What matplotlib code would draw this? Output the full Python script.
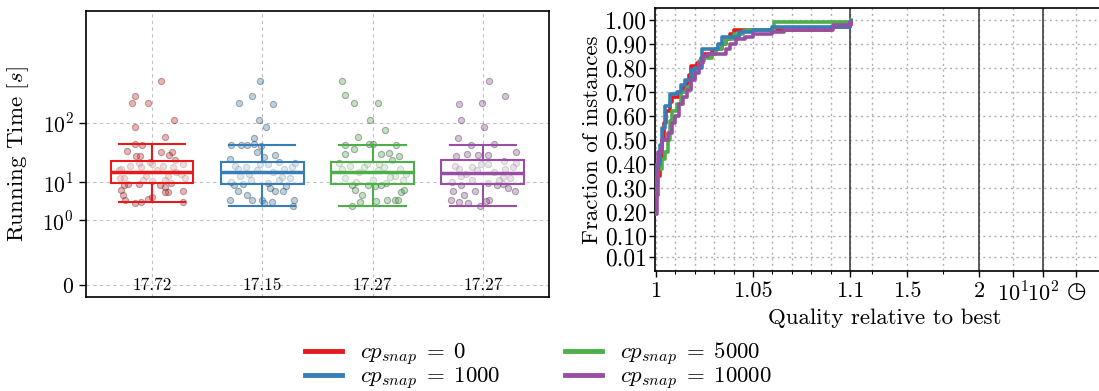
import numpy as np
import matplotlib
matplotlib.use("Agg")
import matplotlib.pyplot as plt
from matplotlib.lines import Line2D

plt.rcParams['font.family'] = ['cmr10', 'DejaVu Sans']
plt.rcParams['mathtext.fontset'] = 'cm'
plt.rcParams['axes.unicode_minus'] = False
plt.rcParams['axes.formatter.use_mathtext'] = True

# ---------------- data ----------------
series_labels = [r'$cp_{snap}\;=\;0$', r'$cp_{snap}\;=\;1000$', r'$cp_{snap}\;=\;5000$', r'$cp_{snap}\;=\;10000$']
colors = ['#e41a1c', '#377eb8', '#4daf4a', '#984ea3']
mean_labels = ['17.72', '17.15', '17.27', '17.27']

box_med = [14.7, 14.7, 14.7, 14.3]
box_q1 = [9.4, 9.0, 9.0, 9.0]
box_q3 = [22.9, 21.7, 21.7, 23.8]
box_lo = [2.95, 2.4, 2.4, 2.4]
box_hi = [44.3, 42.0, 42.5, 43.0]

# running times (s) of individual instances, with horizontal jitter offsets
red_vals = [500, 282, 215, 215, 113, 86, 59, 44, 43, 34, 32, 33, 29, 28, 27.5, 21, 24,
            19, 18, 20, 19, 20, 16, 16, 15, 13, 13, 12, 12, 11, 11, 10.5, 17, 14, 22, 18.5,
            11.7, 8.4, 9.35, 9.35, 8.4, 7.7, 9.6, 6.2, 4.6, 3.5, 2.93, 3.0, 3.76, 4.0, 5.9, 3.1, 5.5, 5.7]
red_off = [0.08, -0.15, -0.18, -0.035, 0.2, -0.15, 0.12, -0.155, -0.09, -0.23, 0.08, 0.18, 0.155, -0.14, -0.11, -0.12, 0.21,
           -0.2, -0.1, 0.0, 0.1, 0.28, -0.3, 0.05, 0.22, -0.05, 0.15, -0.25, 0.3, -0.08, 0.12, 0.0, -0.28, 0.26, -0.02, 0.19,
           -0.29, -0.255, -0.215, -0.115, 0.07, 0.12, 0.175, -0.28, -0.26, -0.24, -0.15, -0.1, -0.035, 0.005, 0.28, 0.28, 0.15, 0.115]

blue_vals = [500, 280, 215, 205, 110, 84, 55, 43, 43, 42, 44, 41, 32, 25, 27, 29, 22,
             19, 18, 20, 17, 21, 16, 15, 13, 12, 11, 11, 10, 9.5, 14, 18, 12.5, 16.5, 20.5,
             6.0, 4.6, 3.4, 3.5, 3.5, 2.8, 3.0, 6.0, 3.5, 2.4, 5.9, 7.0, 8.5, 8.2, 9.3]
blue_off = [-0.02, -0.09, -0.21, 0.1, -0.03, 0.03, -0.07, -0.28, -0.19, -0.14, -0.07, -0.01, -0.05, -0.29, 0.02, 0.12, 0.15,
            -0.25, -0.15, 0.05, 0.2, 0.3, -0.05, 0.1, -0.2, 0.25, -0.1, 0.15, -0.28, 0.05, -0.12, 0.27, 0.18, -0.22, -0.02,
            -0.22, -0.14, -0.29, -0.09, 0.0, 0.02, 0.085, 0.19, 0.29, 0.28, 0.12, 0.07, -0.26, 0.22, -0.17]

green_vals = [500, 300, 220, 220, 113, 77, 59, 44, 45, 42, 42, 36, 30, 30, 31, 28, 24,
              19, 18, 20, 17, 21, 16, 15, 13, 12, 11, 11, 10, 9.5, 14, 18, 12.5, 16.5, 20.5,
              8.4, 6.2, 4.6, 2.4, 3.0, 3.3, 3.5, 3.5, 3.5, 5.7, 6.2, 7.8, 8.4, 8.4]
green_off = [-0.28, -0.25, -0.17, 0.05, -0.02, 0.11, -0.13, -0.03, 0.0, 0.21, -0.25, -0.17, -0.25, 0.08, 0.15, 0.24, 0.18,
             -0.2, 0.1, -0.05, 0.25, -0.3, 0.05, -0.12, 0.2, -0.25, 0.0, 0.28, -0.15, 0.12, 0.3, -0.08, 0.16, -0.28, 0.06,
             -0.19, -0.16, -0.095, -0.19, -0.115, 0.035, 0.13, 0.2, 0.235, 0.26, 0.285, 0.02, 0.08, -0.045]

purple_vals = [500, 285, 210, 215, 110, 84, 56, 42, 44, 32, 28, 30, 29, 29, 23,
               19, 18, 20, 17, 21, 16, 15, 13, 12, 11, 11, 10, 9.5, 14, 18, 12.5, 16.5, 20.5,
               6.0, 4.6, 6.0, 3.4, 3.0, 2.9, 2.4, 3.5, 3.3, 7.0, 5.8, 8.4, 9.0, 8.4]
purple_off = [0.06, 0.2, -0.22, -0.01, -0.2, 0.015, -0.225, -0.105, 0.1, 0.3, -0.24, -0.14, -0.04, 0.05, 0.19,
              -0.25, -0.1, 0.05, 0.2, 0.3, -0.05, 0.1, -0.2, 0.25, -0.1, 0.15, -0.28, 0.05, -0.15, 0.27, 0.18, -0.22, -0.02,
              -0.27, -0.17, -0.075, -0.285, -0.22, -0.13, -0.025, 0.06, 0.03, 0.23, 0.29, 0.125, 0.185, -0.2]

group_vals = [red_vals, blue_vals, green_vals, purple_vals]
group_offs = [red_off, blue_off, green_off, purple_off]

# performance profile (quality ratio -> fraction of instances)
red_x = [1.0, 1.001, 1.002, 1.003, 1.004, 1.005, 1.007, 1.008, 1.012, 1.014, 1.016, 1.017, 1.018, 1.021, 1.023,
         1.025, 1.029, 1.031, 1.034, 1.036, 1.038, 1.040, 1.060, 1.090, 1.100, 1.106]
red_y = [0.27, 0.35, 0.42, 0.50, 0.57, 0.62, 0.66, 0.68, 0.70, 0.72, 0.74, 0.77, 0.81, 0.82, 0.84,
         0.86, 0.87, 0.88, 0.90, 0.92, 0.94, 0.96, 0.96, 0.97, 0.98, 0.99]
blue_x = [1.0, 1.0005, 1.002, 1.003, 1.0046, 1.007, 1.011, 1.013, 1.015, 1.018, 1.020, 1.0236, 1.030, 1.032,
          1.034, 1.0416, 1.043, 1.050, 1.060, 1.100, 1.103, 1.107]
blue_y = [0.30, 0.40, 0.48, 0.55, 0.64, 0.69, 0.70, 0.73, 0.75, 0.79, 0.80, 0.88, 0.88, 0.90,
          0.93, 0.93, 0.95, 0.96, 0.97, 0.97, 0.99, 0.995]
green_x = [1.0, 1.001, 1.003, 1.0046, 1.006, 1.007, 1.0085, 1.011, 1.013, 1.016, 1.018, 1.020, 1.022, 1.025,
           1.0287, 1.031, 1.034, 1.036, 1.040, 1.045, 1.047, 1.0606, 1.104, 1.106]
green_y = [0.28, 0.38, 0.42, 0.45, 0.50, 0.58, 0.62, 0.65, 0.70, 0.72, 0.76, 0.80, 0.83, 0.84,
           0.86, 0.88, 0.90, 0.92, 0.94, 0.955, 0.96, 0.99, 0.99, 1.0]
purple_x = [1.0, 1.0005, 1.001, 1.003, 1.006, 1.008, 1.010, 1.012, 1.014, 1.016, 1.018, 1.020, 1.022, 1.024,
            1.027, 1.0347, 1.036, 1.038, 1.041, 1.046, 1.050, 1.060, 1.066, 1.091, 1.100, 1.105]
purple_y = [0.19, 0.35, 0.45, 0.50, 0.53, 0.57, 0.60, 0.65, 0.68, 0.71, 0.75, 0.78, 0.82, 0.85,
            0.86, 0.86, 0.88, 0.90, 0.92, 0.93, 0.94, 0.95, 0.96, 0.98, 0.99, 0.99]
profile_x = [red_x, blue_x, green_x, purple_x]
profile_y = [red_y, blue_y, green_y, purple_y]

x_tick_vals = [1.0, 1.05, 1.1, 1.5, 2, 10, 100, 1000]
x_tick_labels = ['1', '1.05', '1.1', '1.5', '2', r'$10^1$', r'$10^2$', '\u25f7']
x_minor_vals = [1.01, 1.02, 1.03, 1.04, 1.06, 1.07, 1.08, 1.09, 1.25, 1.75]
y_tick_vals = [0.01, 0.1, 0.2, 0.3, 0.4, 0.5, 0.6, 0.7, 0.8, 0.9, 1.0]

# ---------------- scales ----------------
def run_fwd(v):
    v = np.asarray(v, float)
    lv = np.log10(np.maximum(v, 1e-12))
    return np.where(v < 1, 64.6 * v, np.where(lv < 1, 64.6 + 37.9 * lv, 102.5 + 59.5 * (lv - 1)))

def run_inv(u):
    u = np.asarray(u, float)
    uc = np.clip(u, -1e3, 1e3)
    return np.where(u < 64.6, u / 64.6,
                    np.where(u < 102.5, 10 ** ((uc - 64.6) / 37.9), 10 ** (1 + (uc - 102.5) / 59.5)))

q_knots = [0.9, 1.0, 1.1, 2.0, 10.0, 100.0, 1000.0, 1e5]
u_knots = [-194.0, 0.0, 194.0, 323.0, 357.0, 387.0, 420.0, 520.0]

def q_fwd(q):
    return np.interp(np.asarray(q, float), q_knots, u_knots)

def q_inv(u):
    return np.interp(np.asarray(u, float), u_knots, q_knots)

# ---------------- figure ----------------
W, H = 1099, 391
fig = plt.figure(figsize=(W / 100, H / 100), dpi=100)

# left: running time
axL = fig.add_axes([85.7 / W, 1 - 297.3 / H, (549 - 85.7) / W, (297.3 - 11) / H])
axL.set_yscale('function', functions=(run_fwd, run_inv))
axL.set_ylim(run_inv(-12.4), run_inv(273.9))
axL.set_xlim(-0.6, 3.6)

for i in range(4):
    xs = i + np.asarray(group_offs[i])
    axL.scatter(xs, group_vals[i], s=20, facecolor=colors[i], alpha=0.35,
                edgecolor='#222222', linewidth=0.8, zorder=2)

stats = [dict(med=box_med[i], q1=box_q1[i], q3=box_q3[i], whislo=box_lo[i], whishi=box_hi[i], fliers=[])
         for i in range(4)]
bp = axL.bxp(stats, positions=range(4), widths=0.75, capwidths=0.6, showfliers=False, patch_artist=True)
for i in range(4):
    bp['boxes'][i].set(facecolor=(1, 1, 1, 0.5), edgecolor=colors[i], linewidth=1.5, zorder=3)
    bp['medians'][i].set(color=colors[i], linewidth=2.5, zorder=4)
    for k in (2 * i, 2 * i + 1):
        bp['whiskers'][k].set(color=colors[i], linewidth=1.5, zorder=3)
        bp['caps'][k].set(color=colors[i], linewidth=1.5, zorder=3)
    axL.text(i, 0, mean_labels[i], ha='center', va='center', fontsize=12.5, zorder=5)

axL.set_yticks([0, 1, 10, 100])
axL.set_yticklabels([r'$0$', r'$10^0$', r'$10^1$', r'$10^2$'], fontsize=15.5)
axL.yaxis.set_minor_locator(matplotlib.ticker.NullLocator())
axL.set_xticks(range(4))
axL.set_xticklabels([])
axL.tick_params(axis='x', length=0)
axL.tick_params(axis='y', length=5, width=1)
axL.grid(True, linestyle=(0, (3, 3)), color='#c0c0c0', linewidth=0.8, zorder=0)
axL.set_axisbelow(True)
axL.set_ylabel(r'Running Time [$s$]', fontsize=16.5, labelpad=8)
for sp in axL.spines.values():
    sp.set_linewidth(1.2)

# right: performance profile
right_px = 1115
axR = fig.add_axes([655 / W, 1 - 271 / H, (right_px - 655) / W, (271 - 8.3) / H])
axR.set_xscale('function', functions=(q_fwd, q_inv))
axR.set_xlim(q_inv(-1.0), q_inv(right_px - 656))
axR.set_ylim(-0.047, 1.049)

for i in [0, 2, 1, 3]:
    axR.step(profile_x[i], profile_y[i], where='post', color=colors[i], linewidth=2.6, zorder=3)

for xv in [1.1, 2, 100]:
    axR.axvline(xv, color='#333333', linewidth=1.1, zorder=2)

axR.set_xticks(x_tick_vals)
axR.set_xticklabels(x_tick_labels, fontsize=16)
axR.set_xticks(x_minor_vals, minor=True)
axR.set_yticks(y_tick_vals)
axR.set_yticklabels(['%.2f' % v for v in y_tick_vals], fontsize=17)
axR.yaxis.set_minor_locator(matplotlib.ticker.NullLocator())
axR.tick_params(axis='both', which='major', length=4, width=1)
axR.tick_params(axis='y', which='major', pad=2)
axR.tick_params(axis='x', which='minor', length=2.5, width=0.8)
axR.grid(True, which='both', linestyle=(0, (1.5, 2.5)), color='#b0b0b0', linewidth=1.0, zorder=0)
axR.set_axisbelow(True)
axR.set_xlabel('Quality relative to best', fontsize=16.5, labelpad=2)
axR.set_ylabel('Fraction of instances', fontsize=16.5, labelpad=2)
for sp in axR.spines.values():
    sp.set_linewidth(1.2)

# legend
handles = [Line2D([0], [0], color=c, linewidth=3.5) for c in colors]
fig.legend(handles, series_labels, loc='center', bbox_to_anchor=(0.49, 0.063), ncol=2, frameon=False,
           fontsize=16.5, handlelength=1.6, handletextpad=0.8, columnspacing=2.8, labelspacing=-0.08,
           borderpad=0.05)

fig.savefig('out.png', dpi=100)
